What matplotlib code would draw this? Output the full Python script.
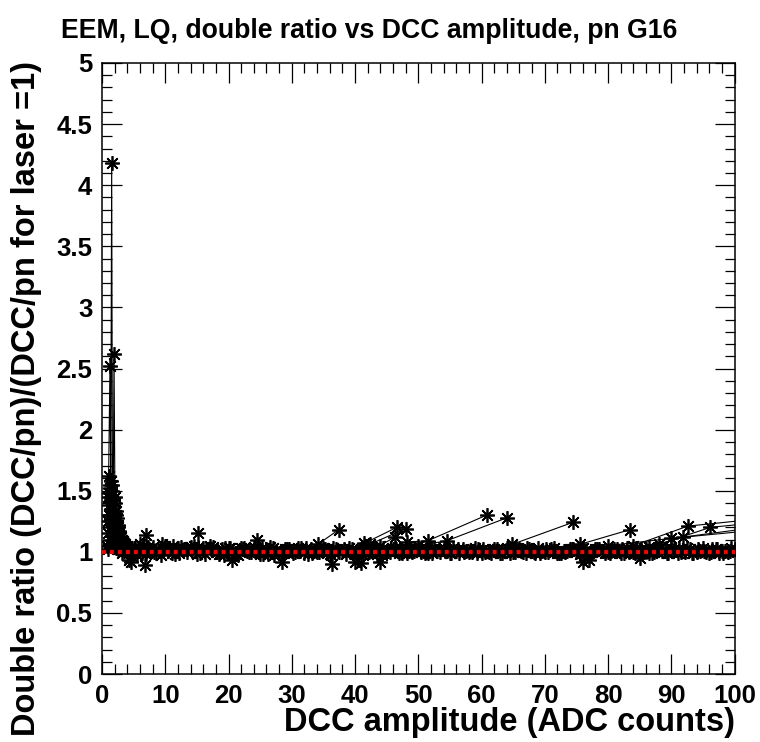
import matplotlib
matplotlib.use("Agg")
import matplotlib.pyplot as plt
from matplotlib.ticker import MultipleLocator

# ---------------- data ----------------
# rising part at very low amplitude (interleaved channels)
amp_rise_a = [0.9, 1.05, 1.26, 1.38, 1.53, 1.65, 1.78, 1.9, 2.05, 2.2, 2.35, 2.5, 2.7, 2.9, 3.1, 3.35, 3.6, 3.9]
ratio_rise_a = [1.45, 1.62, 2.52, 1.58, 4.18, 1.50, 1.42, 2.62, 1.40, 1.33, 1.28, 1.22, 1.17, 1.13, 1.10, 1.07, 1.06, 1.04]
amp_rise_b = [0.85, 1.0, 1.15, 1.3, 1.45, 1.6, 1.75, 1.9, 2.05, 2.2, 2.4, 2.6, 2.8, 3.0, 3.25, 3.5]
ratio_rise_b = [1.05, 1.25, 1.38, 1.30, 1.45, 1.35, 1.28, 1.32, 1.22, 1.25, 1.15, 1.12, 1.08, 1.06, 1.03, 1.01]
amp_rise_c = [0.95, 1.1, 1.25, 1.4, 1.55, 1.7, 1.85, 2.0, 2.15, 2.3, 2.5, 2.75, 3.0]
ratio_rise_c = [1.15, 1.48, 1.55, 1.42, 1.20, 1.38, 1.18, 1.25, 1.12, 1.18, 1.05, 1.10, 1.02]
amp_rise_d = [1.0, 1.2, 1.35, 1.5, 1.7, 1.85, 2.0, 2.2, 2.4, 2.6, 2.9, 3.2]
ratio_rise_d = [1.02, 1.10, 1.25, 1.05, 1.15, 1.05, 1.10, 1.03, 1.08, 1.02, 1.04, 0.99]
amp_rise_e = [1.1, 1.3, 1.5, 1.65, 1.8, 2.0, 2.25, 2.5, 2.75, 3.0, 3.3]
ratio_rise_e = [1.30, 1.52, 1.35, 1.55, 1.25, 1.45, 1.30, 1.20, 1.15, 1.12, 1.08]

# flat band, channel A
amp_a = [4, 5, 6, 7, 8, 9, 10, 11, 12, 13, 14, 15, 16, 17, 18, 19, 20,
         21, 22, 23, 24, 25, 26, 27, 28, 29, 30, 31, 32, 33, 34, 35, 36, 37, 38, 39, 40,
         41, 42, 43, 44, 45, 46, 47, 48, 49, 50, 51, 52, 53, 54, 55, 56, 57, 58, 59, 60,
         61, 62, 63, 64, 65, 66, 67, 68, 69, 70, 71, 72, 73, 74, 75, 76, 77, 78, 79, 80,
         81, 82, 83, 84, 85, 86, 87, 88, 89, 90, 91, 92, 93, 94, 95, 96, 97, 98, 99, 100]
ratio_a = [1.05, 1.03, 1.06, 0.98, 1.04, 1.01, 1.05, 0.99, 1.03, 1.02, 1.04, 0.98, 1.03, 1.05, 1.00, 1.02, 1.03,
           0.99, 1.03, 1.01, 1.04, 0.98, 1.02, 1.03, 0.99, 1.02, 1.01, 1.03, 0.99, 1.02, 1.00, 1.03, 0.98, 1.02, 1.01, 1.03, 0.99,
           1.02, 1.00, 1.03, 0.99, 1.01, 1.02, 0.99, 1.03, 1.00, 1.02, 0.99, 1.02, 1.01, 1.03, 0.99, 1.01, 1.02, 1.00, 1.03, 0.99,
           1.01, 1.02, 0.99, 1.03, 1.00, 1.02, 0.99, 1.01, 1.03, 1.00, 1.02, 0.99, 1.01, 1.02, 1.00, 1.03, 0.99, 1.02, 1.01, 1.00,
           1.02, 0.99, 1.03, 1.00, 1.01, 1.02, 0.99, 1.02, 1.01, 1.03, 0.99, 1.01, 1.02, 1.00, 1.03, 0.99, 1.02, 1.01, 1.00, 1.02]

# flat band, channel B
amp_b = [3.5, 4.5, 5.5, 6.5, 7.5, 8.5, 9.5, 10.5, 11.5, 12.5, 13.5, 14.5, 15.5, 16.5, 17.5, 18.5, 19.5,
         20.5, 21.5, 22.5, 23.5, 24.5, 25.5, 26.5, 27.5, 28.5, 29.5, 30.5, 31.5, 32.5, 33.5, 34.5, 35.5, 36.5, 37.5, 38.5, 39.5,
         40.5, 41.5, 42.5, 43.5, 44.5, 45.5, 46.5, 47.5, 48.5, 49.5, 50.5, 51.5, 52.5, 53.5, 54.5, 55.5, 56.5, 57.5, 58.5, 59.5,
         60.5, 61.5, 62.5, 63.5, 64.5, 65.5, 66.5, 67.5, 68.5, 69.5, 70.5, 71.5, 72.5, 73.5, 74.5, 75.5, 76.5, 77.5, 78.5, 79.5,
         80.5, 81.5, 82.5, 83.5, 84.5, 85.5, 86.5, 87.5, 88.5, 89.5, 90.5, 91.5, 92.5, 93.5, 94.5, 95.5, 96.5, 97.5, 98.5, 99.5]
ratio_b = [1.07, 1.00, 0.97, 1.05, 1.02, 0.99, 1.06, 1.01, 0.98, 1.04, 1.00, 1.05, 0.99, 1.02, 1.04, 0.98, 1.03,
           1.01, 0.97, 1.03, 1.00, 1.02, 0.98, 1.04, 1.01, 0.99, 1.02, 1.00, 1.03, 0.98, 1.01, 1.02, 0.99, 1.03, 1.00, 0.98, 1.02,
           0.99, 1.02, 1.01, 0.98, 1.03, 1.00, 1.02, 0.99, 1.01, 1.03, 1.00, 0.99, 1.02, 1.00, 1.01, 1.03, 0.99, 1.01, 1.00, 1.02,
           1.00, 0.99, 1.02, 1.01, 0.99, 1.03, 1.00, 1.02, 0.99, 1.01, 1.00, 1.03, 0.99, 1.01, 1.02, 0.98, 1.01, 1.00, 1.02, 0.99,
           1.01, 1.02, 0.99, 1.01, 1.03, 1.00, 0.99, 1.02, 1.01, 0.99, 1.02, 1.00, 1.03, 0.99, 1.01, 1.00, 1.02, 0.99, 1.01, 1.03]

# flat band, channel C
amp_c = [3.25, 4.25, 5.25, 6.25, 7.25, 8.25, 9.25, 10.25, 11.25, 12.25, 13.25, 14.25, 15.25, 16.25, 17.25, 18.25, 19.25,
         20.25, 21.25, 22.25, 23.25, 24.25, 25.25, 26.25, 27.25, 28.25, 29.25, 30.25, 31.25, 32.25, 33.25, 34.25, 35.25, 36.25, 37.25, 38.25, 39.25,
         40.25, 41.25, 42.25, 43.25, 44.25, 45.25, 46.25, 47.25, 48.25, 49.25, 50.25, 51.25, 52.25, 53.25, 54.25, 55.25, 56.25, 57.25, 58.25, 59.25,
         60.25, 61.25, 62.25, 63.25, 64.25, 65.25, 66.25, 67.25, 68.25, 69.25, 70.25, 71.25, 72.25, 73.25, 74.25, 75.25, 76.25, 77.25, 78.25, 79.25,
         80.25, 81.25, 82.25, 83.25, 84.25, 85.25, 86.25, 87.25, 88.25, 89.25, 90.25, 91.25, 92.25, 93.25, 94.25, 95.25, 96.25, 97.25, 98.25, 99.25]
ratio_c = [1.09, 0.93, 1.03, 0.99, 1.04, 1.00, 0.97, 1.03, 1.05, 0.99, 1.02, 1.01, 1.04, 0.98, 1.02, 1.00, 0.97,
           1.03, 0.98, 1.02, 1.00, 1.01, 1.03, 0.98, 0.97, 1.01, 1.02, 0.99, 1.01, 1.03, 0.99, 1.00, 1.02, 0.97, 1.01, 1.02, 1.00,
           1.01, 0.97, 1.00, 1.02, 0.97, 1.01, 1.03, 1.00, 0.99, 1.01, 1.02, 1.00, 0.99, 1.02, 1.01, 0.99, 1.02, 1.00, 1.01, 0.99,
           1.02, 1.00, 1.01, 0.99, 1.02, 1.00, 1.01, 1.03, 1.00, 0.99, 1.02, 1.01, 0.99, 1.00, 1.02, 1.01, 0.97, 1.00, 1.02, 1.01,
           0.99, 1.01, 1.02, 1.00, 0.99, 1.02, 1.01, 1.00, 1.03, 0.99, 1.01, 1.02, 1.00, 0.99, 1.02, 1.01, 1.00, 1.02, 0.99, 1.01]

# stray points above / below the band
stray_amp = [4.6, 6.8, 7.0, 15.2, 20.5, 24.5, 28.4, 36.3, 40.0, 41.0, 44.0, 76.0, 77.0, 85.0]
stray_ratio = [0.92, 0.89, 1.14, 1.15, 0.93, 1.10, 0.92, 0.90, 0.92, 0.91, 0.92, 0.92, 0.93, 0.95]

# excursions connected to the band
spike_amp = [[34.1, 37.4], [41.5, 46.6], [42.3, 48.0], [43.9, 46.3],
             [48.2, 51.5, 60.8], [50.0, 54.5, 64.1], [64.8, 74.4], [75.5, 83.4],
             [80.0, 90.0, 102.0], [84.0, 92.6, 102.0], [86.5, 91.8, 102.0], [88.0, 96.2, 102.0]]
spike_ratio = [[1.06, 1.18], [1.07, 1.20], [1.06, 1.19], [1.05, 1.12],
               [1.08, 1.09, 1.30], [1.05, 1.09, 1.28], [1.06, 1.24], [1.06, 1.18],
               [1.05, 1.11, 1.17], [1.05, 1.21, 1.26], [1.04, 1.12, 1.19], [1.06, 1.20, 1.23]]

ref_amp = [0, 100]
ref_ratio = [1.0, 1.0]

title = "EEM, LQ, double ratio vs DCC amplitude, pn G16"
xlabel = "DCC amplitude (ADC counts)"
ylabel = "Double ratio (DCC/pn)/(DCC/pn for laser =1)"

# ---------------- figure ----------------
W, H = 760, 742
fig = plt.figure(figsize=(W / 100, H / 100), dpi=100)
L, R, T, B = 102, 734.5, 63, 674
ax = fig.add_axes([L / W, 1 - B / H, (R - L) / W, (B - T) / H])

FONT = "Liberation Sans"
STAR = (8, 2, 0)
mk = dict(color="black", lw=0.8, marker=STAR, ms=10.5, mew=1.25)

runs = [(amp_a, ratio_a), (amp_b, ratio_b), (amp_c, ratio_c),
        (amp_rise_a, ratio_rise_a), (amp_rise_b, ratio_rise_b), (amp_rise_c, ratio_rise_c),
        (amp_rise_d, ratio_rise_d), (amp_rise_e, ratio_rise_e)]
for xs, ys in runs:
    ax.plot(xs, ys, **mk)
for xs, ys in zip(spike_amp, spike_ratio):
    ax.plot(xs, ys, **mk)
ax.plot(stray_amp, stray_ratio, ls="none", marker=STAR, ms=10.5, mew=1.25, color="black")

ax.plot(ref_amp, ref_ratio, color="#ff0000", lw=2.8, ls=(0, (1.0, 1.05)), zorder=5)

ax.set_xlim(0, 100)
ax.set_ylim(0, 5)
ax.xaxis.set_major_locator(MultipleLocator(10))
ax.xaxis.set_minor_locator(MultipleLocator(2))
ax.yaxis.set_major_locator(MultipleLocator(0.5))
ax.yaxis.set_minor_locator(MultipleLocator(0.1))
ax.yaxis.set_major_formatter(plt.FuncFormatter(lambda v, p: ("%g" % v)))

ax.tick_params(which="both", direction="in", top=True, right=True, width=0.9)
ax.tick_params(which="major", length=14.5, pad=7)
ax.tick_params(which="minor", length=7.5)
for s in ax.spines.values():
    s.set_linewidth(1.1)
for lab in ax.get_xticklabels() + ax.get_yticklabels():
    lab.set_fontfamily(FONT)
    lab.set_fontweight("bold")
    lab.set_fontsize(18.5)

fig.text(61 / W, 1 - 38 / H, title, ha="left", va="baseline",
         fontsize=19.2, fontweight="bold", family=FONT)
fig.text(R / W, 1 - 731 / H, xlabel, ha="right", va="baseline",
         fontsize=23.5, fontweight="bold", family=FONT)
fig.text(27 / W, 1 - 61 / H, ylabel, ha="center", va="top", rotation=90,
         fontsize=23.5, fontweight="bold", family=FONT)

fig.savefig("out.png", dpi=100)
